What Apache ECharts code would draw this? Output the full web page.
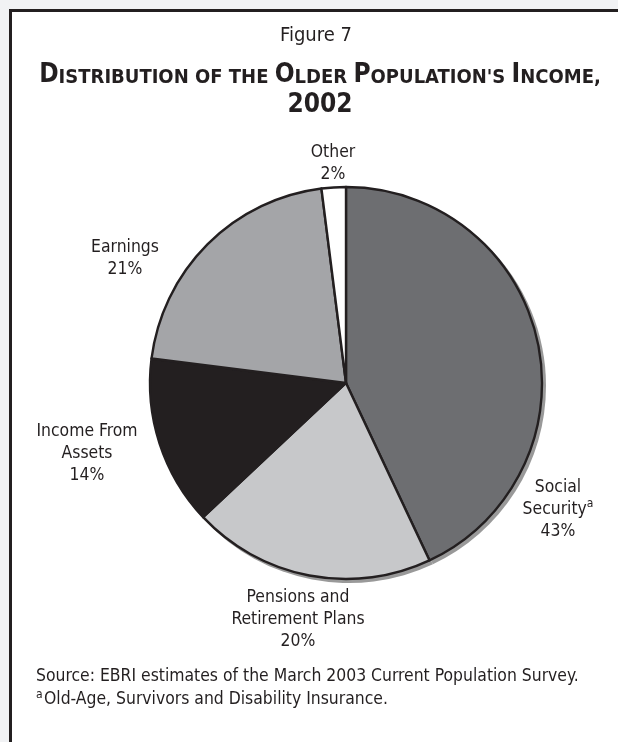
<!DOCTYPE html>
<html>
<head>
<meta charset="utf-8">
<script src="https://cdn.jsdelivr.net/npm/echarts@6/dist/echarts.min.js"></script>
<style>
html,body{margin:0;padding:0;background:#f1f2f4;}
#chart{width:618px;height:742px;}
</style>
</head>
<body>
<div id="chart"></div>
<script>
// ---- data ----
var categories = ['Social Security', 'Pensions and Retirement Plans', 'Income From Assets', 'Earnings', 'Other'];
var values = [43, 20, 14, 21, 2];
var labelLines = [['Social', 'Security'], ['Pensions and', 'Retirement Plans'], ['Income From', 'Assets'], ['Earnings'], ['Other']];
var labelSup = ['a', '', '', '', ''];
var figureLabel = 'Figure 7';
var titleLine2 = '2002';
var sourceNote = 'Source: EBRI estimates of the March 2003 Current Population Survey.';
var footNote = 'Old-Age, Survivors and Disability Insurance.';

// ---- styles ----
var FONT = '"Liberation Sans Narrow", "DejaVu Sans Condensed", sans-serif';
var sliceColors = ['#6d6e71', '#c7c8ca', '#231f20', '#a4a5a8', '#ffffff'];
var labelPos = [[558, 509], [298, 619], [87, 453], [125, 258], [333, 163]];
var TXT = '#231f20';

function smallCaps(str) {
  var out = '';
  str.split(' ').forEach(function (w, i) {
    if (i > 0) out += '{s| }';
    if (w === 'OF' || w === 'THE') { out += '{s|' + w + '}'; return; }
    out += '{b|' + w.charAt(0) + '}';
    if (w.length > 1) out += '{s|' + w.slice(1) + '}';
  });
  return out;
}

var chart = echarts.init(document.getElementById('chart'), null, {renderer: 'canvas'});

var pieData = categories.map(function (c, i) {
  return {name: c, value: values[i], itemStyle: {color: sliceColors[i]}};
});
var shadowData = categories.map(function (c, i) {
  return {name: c, value: values[i]};
});

var option = {
  backgroundColor: '#f1f2f4',
  animation: false,
  graphic: [
    {type: 'rect', z: -10, shape: {x: 10.5, y: 10.5, width: 640, height: 760},
     style: {fill: '#ffffff', stroke: '#231f20', lineWidth: 3}},
    {type: 'text', x: 316, y: 26, z: 10,
     style: {text: figureLabel, font: '20px ' + FONT, fill: TXT, textAlign: 'center'}},
    {type: 'text', x: 320, y: 62, z: 10,
     style: {
       text: smallCaps("DISTRIBUTION OF THE OLDER POPULATION'S INCOME,"),
       textAlign: 'center',
       rich: {
         b: {fontFamily: FONT, fontWeight: 'bold', fontSize: 26, fill: TXT, verticalAlign: 'bottom', lineHeight: 26},
         s: {fontFamily: FONT, fontWeight: 'bold', fontSize: 20, fill: TXT, verticalAlign: 'bottom', lineHeight: 26}
       }
     }},
    {type: 'text', x: 320, y: 92, z: 10,
     style: {text: titleLine2, font: 'bold 26px ' + FONT, fill: TXT, textAlign: 'center'}},
    {type: 'text', x: 36, y: 668, z: 10,
     style: {text: sourceNote, font: '17.4px ' + FONT, fill: TXT}},
    {type: 'text', x: 36, y: 689, z: 10,
     style: {text: 'a', font: '12px ' + FONT, fill: TXT}},
    {type: 'text', x: 44, y: 691, z: 10,
     style: {text: footNote, font: '17.4px ' + FONT, fill: TXT}}
  ],
  series: [
    {
      type: 'pie', silent: true, z: 1,
      center: [349, 386], radius: [0, 197],
      startAngle: 90, clockwise: true,
      itemStyle: {color: '#999999', borderWidth: 0},
      label: {show: false}, labelLine: {show: false},
      data: shadowData
    },
    {
      type: 'pie', z: 2,
      center: [346, 383], radius: [0, 196],
      startAngle: 90, clockwise: true,
      itemStyle: {borderColor: '#231f20', borderWidth: 2.4},
      emphasis: {disabled: true},
      labelLine: {show: false},
      label: {
        show: true, position: 'outside', overflow: 'none',
        formatter: function (p) {
          var lines = labelLines[p.dataIndex].map(function (l) { return '{t|' + l + '}'; });
          if (labelSup[p.dataIndex]) lines[lines.length - 1] += '{sup|' + labelSup[p.dataIndex] + '}';
          lines.push('{t|' + p.value + '%}');
          return lines.join('\n');
        },
        align: 'center',
        rich: {
          t: {fontFamily: FONT, fontSize: 17.4, color: TXT, lineHeight: 22, align: 'center'},
          sup: {fontFamily: FONT, fontSize: 12, color: TXT, lineHeight: 22, verticalAlign: 'top', padding: [0, 0, 6, 0]}
        }
      },
      labelLayout: function (params) {
        var pos = labelPos[params.dataIndex];
        return {x: pos[0], y: pos[1], align: 'center', verticalAlign: 'middle'};
      },
      data: pieData
    }
  ]
};
chart.setOption(option);
</script>
</body>
</html>
